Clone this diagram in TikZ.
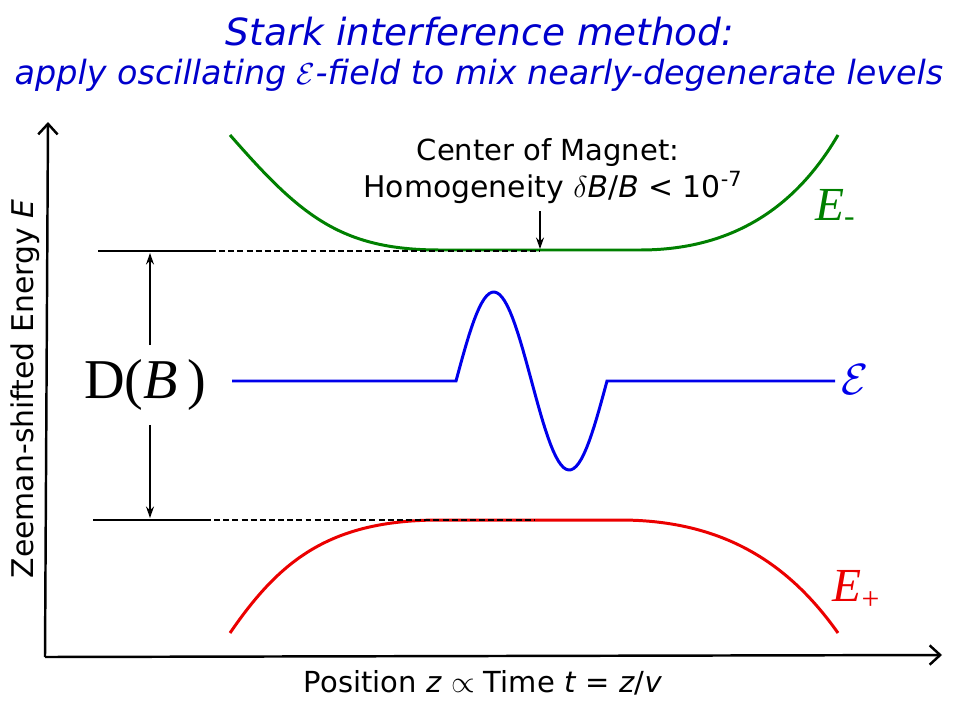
\documentclass[tikz,border=0pt]{standalone}
\usepackage{amsmath}
\usepackage{amssymb}
\usepackage{fontspec}
\setmainfont{DejaVu Sans}
\newfontfamily\timesfont{Liberation Serif}
\usetikzlibrary{arrows.meta}

\definecolor{titleblue}{RGB}{0,0,204}
\definecolor{fieldblue}{RGB}{0,0,235}
\definecolor{levelgreen}{RGB}{0,128,0}
\definecolor{levelred}{RGB}{235,0,0}

\begin{document}
\begin{tikzpicture}[x=0.02cm,y=-0.02cm,
    axis/.style={line width=1.4pt,-{Straight Barb[length=6pt,width=11pt]}},
    thinline/.style={line width=0.6pt},
    dashline/.style={line width=0.8pt,dash pattern=on 3.4pt off 1.8pt},
    arr/.style={line width=1pt,-{Stealth[length=6.5pt,width=4.5pt]}},
    level/.style={line width=1.7pt}]
\useasboundingbox (0,0) rectangle (960,720);

\node[titleblue,inner sep=0pt,text height=16pt,text depth=0pt,font=\fontsize{21.3}{25}\selectfont\itshape] (title) at (480,31) {Stark interference method:};
\node[titleblue,inner sep=0pt,text height=14.5pt,text depth=4.5pt,font=\fontsize{19}{22}\selectfont\itshape] (subtitle) at (479,76) {apply oscillating $\mathcal{E}$-field to mix nearly-degenerate levels};

\coordinate (origin) at (45,657);
\coordinate (ytop) at (48,122);
\coordinate (xend) at (942,655);
\draw[axis] (origin) -- (ytop);
\draw[axis] (origin) -- (xend);
\node[rotate=90,font=\fontsize{17}{20}\selectfont] (ylabel) at (25,389) {Zeeman-shifted Energy \textit{E}};
\node[font=\fontsize{16.5}{20}\selectfont] (xlabel) at (483,683) {Position \textit{z} $\propto$ Time \textit{t} = \textit{z}/\textit{v}};

% levels
\draw[level,levelgreen] (230,135) .. controls (300,215) and (340,250) .. (440,250) -- (640,250) .. controls (740,250) and (800,200) .. (838,135);
\draw[level,levelred] (230,633) .. controls (280,560) and (330,520) .. (440,520) -- (620,520) .. controls (725,520) and (790,565) .. (838,633);

% field pulse
\draw[level,fieldblue] (232,381) -- (456,381)
  -- plot[domain=0:360,samples=60] ({456+\x/360*151},{381-89*sin(\x)})
  -- (835,381);

\draw[thinline] (98,251) -- (210,251);
\draw[dashline] (210,251) -- (540,251);
\draw[thinline] (93,520) -- (205,520);
\draw[dashline] (205,520) -- (535,520);

\node[font=\fontsize{32}{36}\selectfont\timesfont,minimum height=45pt,inner sep=0pt] (gap) at (145,385) {D(\textit{B}\,)};
\coordinate (gapTop) at (150,253);
\coordinate (gapBottom) at (150,518);
\draw[arr] (gap.north -| gapTop) -- (gapTop);
\draw[arr] (gap.south -| gapBottom) -- (gapBottom);

\node[font=\fontsize{16.5}{20}\selectfont] (center) at (548,152) {Center of Magnet:};
\node[font=\fontsize{17}{20}\selectfont] (homog) at (553,187) {Homogeneity $\delta$\textit{B}/\textit{B} < 10\textsuperscript{-7}};
\coordinate (magCenter) at (540,249);
\draw[arr] ([yshift=-1pt]homog.south -| magCenter) -- (magCenter);

\node[levelgreen,font=\fontsize{27}{30}\selectfont\timesfont] (Eminus) at (835,208) {\textit{E}\raisebox{-0.3ex}{\fontsize{18}{20}\selectfont -}};
\node[fieldblue,font=\fontsize{27}{30}\selectfont] (Efield) at (855,380) {$\mathcal{E}$};
\node[levelred,font=\fontsize{27}{30}\selectfont\timesfont] (Eplus) at (856,590) {\textit{E}\raisebox{-0.35ex}{\fontsize{18}{20}\selectfont +}};

\end{tikzpicture}
\end{document}
